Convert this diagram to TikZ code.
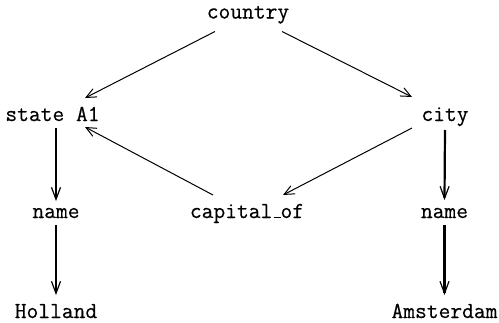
\documentclass[tikz,border=0pt]{standalone}
\usepackage{fontspec}
\usetikzlibrary{arrows.meta,calc}
\newfontfamily\labelfont{Latin Modern Mono}[FakeBold=0.4]
% narrow underscore made of a rule, as in classic typewriter text
\newcommand\ulbar{\leavevmode\kern.06em\vbox{\hrule width.3em height .5pt}}
\begin{document}
\begin{tikzpicture}[x=0.5pt,y=-0.5pt,
  lbl/.style={inner sep=0pt,anchor=base,font=\fontsize{11.43}{14}\labelfont},
  rel/.style={line width=0.5pt,-{Straight Barb[length=5pt,width=4.5pt,line width=0.5pt]}},
  attr/.style={line width=1.1pt,-{Straight Barb[length=6pt,width=4.5pt,line width=0.6pt]}}]
\useasboundingbox (0,0) rectangle (499,322);

% entities, relation and attributes
\node[lbl] (country) at (248,18.5) {country};
\node[lbl] (state)   at (52.5,121) {state A1};
\node[lbl] (city)    at (445,121) {city};
\node[lbl] (cap)     at (247,218) {capital\ulbar of};
\node[lbl] (nameL)   at (56,218) {name};
\node[lbl] (nameR)   at (444.5,218) {name};
\node[lbl] (holland) at (56,318) {Holland};
\node[lbl] (amst)    at (444.5,318) {Amsterdam};

% relations
\draw[rel] ($(country.base)+(-33,13)$) -- ($(state.base)+(32.5,-23)$);
\draw[rel] ($(country.base)+(34,13)$) -- ($(city.base)+(-33,-24)$);
\draw[rel] ($(cap.base)+(-34,-23)$) -- ($(state.base)+(32.5,6)$);
\draw[rel] ($(city.base)+(-33,7)$) -- ($(cap.base)+(36,-23)$);

% attributes
\draw[attr] ($(state.base)+(3.5,7)$) -- ($(nameL.base)+(0,-17)$);
\draw[attr] ($(nameL.base)+(0,7)$) -- ($(holland.base)+(0,-23)$);
\draw[attr] ($(city.base)+(0,9)$) -- ($(nameR.base)+(0,-18)$);
\draw[attr] ($(nameR.base)+(0,7)$) -- ($(amst.base)+(0,-23)$);
\end{tikzpicture}
\end{document}
